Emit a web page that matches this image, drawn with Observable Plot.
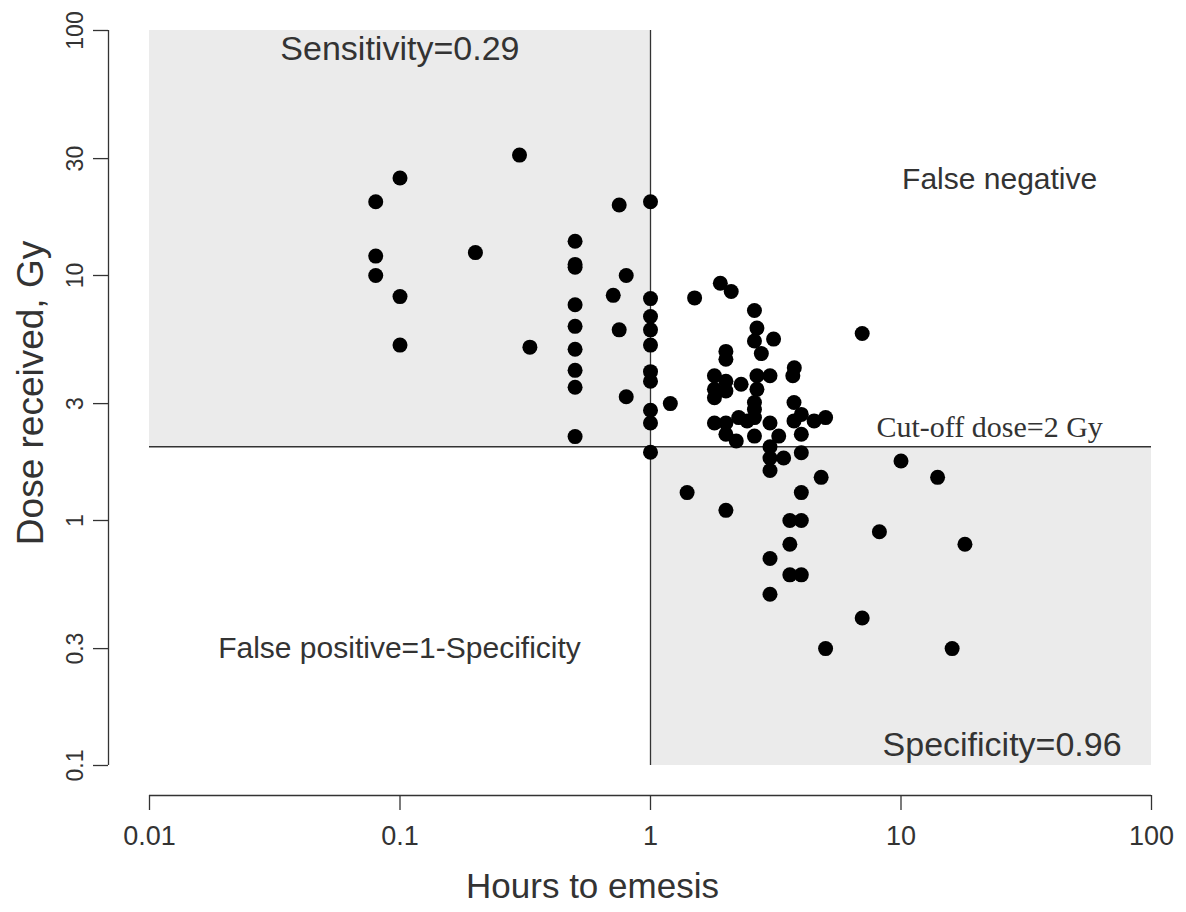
<!DOCTYPE html>
<html>
<head>
<meta charset="utf-8">
<script src="https://cdn.jsdelivr.net/npm/d3@7"></script>
<script src="https://cdn.jsdelivr.net/npm/@observablehq/plot@0.6"></script>
<style>
  html, body { margin: 0; padding: 0; background: #fff; }
  #chart { width: 1186px; height: 912px; }
</style>
</head>
<body>
<div id="chart"></div>
<script>
// ---- data ----
const hours = [
  0.08, 0.1, 0.08, 0.08, 0.1, 0.1, 0.2, 0.3, 0.33,
  0.5, 0.5, 0.5, 0.5, 0.5, 0.5, 0.5, 0.5, 0.5,
  0.75, 0.8, 0.71, 0.75, 0.8,
  1, 1, 1, 1, 1, 1, 1, 1, 1, 1,
  1.2, 1.5, 1.9, 2.1, 2.6, 2.66, 3.1, 2.6, 2.77,
  2, 2, 1.8, 2, 2.3, 1.8, 2, 1.8, 2.66, 3, 2.66,
  2.6, 2.6, 2.6, 2.6, 1.8, 2, 2, 2.25, 2.2, 2.43,
  3, 3.25, 3, 3.75, 3.7, 3.74, 4, 3.74, 4, 4.5, 5,
  3, 3, 3.4, 4, 4.8, 10, 14, 1.4, 4, 2, 3.6, 4, 8.2, 18, 3.6, 3, 3.6, 4, 3, 7, 5, 16, 7
];
const dose = [
  20, 25, 12, 10, 8.2, 5.2, 12.4, 31, 5.1,
  13.8, 11.1, 10.8, 7.6, 6.2, 5.0, 4.1, 3.5, 2.2,
  19.4, 10, 8.3, 6.0, 3.2,
  20, 8.05, 6.8, 6.0, 5.2, 4.05, 3.7, 2.82, 2.5, 1.9,
  3.0, 8.1, 9.3, 8.6, 7.2, 6.1, 5.5, 5.4, 4.8,
  4.9, 4.55, 3.9, 3.7, 3.6, 3.43, 3.38, 3.17, 3.9, 3.9, 3.43,
  3.03, 2.84, 2.63, 2.21, 2.5, 2.5, 2.25, 2.63, 2.11, 2.55,
  2.5, 2.21, 2.0, 4.2, 3.9, 3.03, 2.71, 2.55, 2.25, 2.55, 2.63,
  1.8, 1.6, 1.8, 1.89, 1.5, 1.75, 1.5, 1.3, 1.3, 1.1, 1.0, 1.0, 0.9, 0.8, 0.8, 0.7, 0.6, 0.6, 0.5, 0.4, 0.3, 0.3, 5.8
];
const xTicks = [0.01, 0.1, 1, 10, 100];
const yTicks = [0.1, 0.3, 1, 3, 10, 30, 100];
const cutoffHours = 1;
const cutoffDose = 2;
const xDomain = [0.01, 100];
const yDomain = [0.1, 100];
const annotations = [
  {label: "Sensitivity=0.29", x: 0.0333, y: 76},
  {label: "False negative", x: 10.1, y: 22.5},
  {label: "False positive=1-Specificity", x: 0.0188, y: 0.275},
  {label: "Specificity=0.96", x: 8.44, y: 0.109}
];
const cutoffLabel = {label: "Cut-off dose=2 Gy", x: 7.98, y: 2.19};

const points = hours.map((h, i) => ({hours: h, dose: dose[i]}));
const regions = [
  {x1: xDomain[0], x2: cutoffHours, y1: cutoffDose, y2: yDomain[1]},
  {x1: cutoffHours, x2: xDomain[1], y1: yDomain[0], y2: cutoffDose}
];

const sans = "Liberation Sans, Arial, Helvetica, sans-serif";
const ink = "#333";

const chart = Plot.plot({
  width: 1186,
  height: 912,
  marginLeft: 149,
  marginRight: 35,
  marginTop: 30,
  marginBottom: 147,
  style: {fontFamily: sans, background: "#fff", overflow: "visible"},
  x: {type: "log", domain: xDomain, axis: null},
  y: {type: "log", domain: yDomain, axis: null},
  marks: [
    Plot.rect(regions, {x1: "x1", x2: "x2", y1: "y1", y2: "y2", fill: "#ebebeb"}),
    Plot.ruleX([cutoffHours], {y1: yDomain[0], y2: yDomain[1], stroke: ink, strokeWidth: 1.3}),
    Plot.ruleY([cutoffDose], {x1: xDomain[0], x2: xDomain[1], stroke: ink, strokeWidth: 1.3}),
    Plot.dot(points, {x: "hours", y: "dose", r: 7.5, fill: "#000", stroke: "none"}),
    Plot.text(annotations, {x: "x", y: "y", text: "label", textAnchor: "start", lineAnchor: "bottom",
      fontSize: d => d.label.includes("=0.") ? 34 : 30, fill: ink}),
    Plot.text([cutoffLabel], {x: "x", y: "y", text: "label", textAnchor: "start", lineAnchor: "bottom",
      fontSize: 30, fill: ink, fontFamily: "Liberation Serif, Times New Roman, serif"}),
    // y axis (offset to the left of the frame)
    Plot.ruleX([xDomain[0]], {y1: yDomain[0], y2: yDomain[1], dx: -41, stroke: ink, strokeWidth: 1.3}),
    Plot.axisY(yTicks, {tickSize: 15, dx: -41, tickFormat: () => "", stroke: ink, strokeWidth: 1.3}),
    Plot.text(yTicks, {y: d => d, text: d => String(d), frameAnchor: "left", dx: -74, rotate: -90,
      textAnchor: "middle", lineAnchor: "middle", fontSize: 23, fill: ink}),
    // x axis (offset below the frame)
    Plot.ruleY([yDomain[0]], {x1: xDomain[0], x2: xDomain[1], dy: 30, stroke: ink, strokeWidth: 1.3}),
    Plot.axisX(xTicks, {tickSize: 15, dy: 30, tickPadding: 15, tickFormat: d => String(d), fontSize: 27,
      stroke: ink, strokeWidth: 1.3, fill: ink}),
    // axis titles
    Plot.text(["Dose received, Gy"], {frameAnchor: "left", dx: -107, dy: -5, rotate: -90,
      textAnchor: "middle", lineAnchor: "bottom", fontSize: 37, fill: ink}),
    Plot.text(["Hours to emesis"], {frameAnchor: "bottom", dx: -58, dy: 132,
      textAnchor: "middle", lineAnchor: "bottom", fontSize: 35, fill: ink})
  ]
});
document.getElementById("chart").appendChild(chart);
</script>
</body>
</html>
